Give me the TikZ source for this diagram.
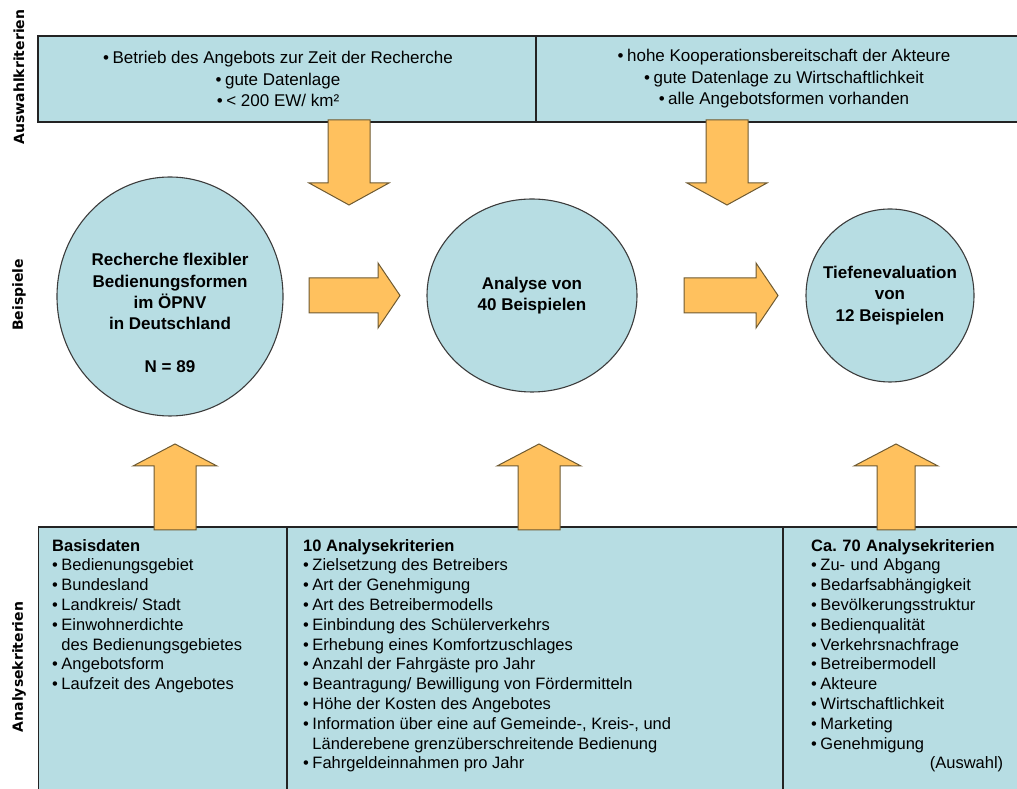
\documentclass[tikz,border=0pt]{standalone}
\usepackage{fontspec}
\setmainfont{Liberation Sans}
\newfontfamily\sidefont{DejaVu Sans}
\usetikzlibrary{shapes.geometric,positioning,calc}

\definecolor{boxfill}{RGB}{183,221,227}
\definecolor{arrowfill}{RGB}{255,193,94}
\definecolor{arrowline}{RGB}{110,90,50}
\definecolor{lineclr}{RGB}{35,35,35}
\definecolor{circline}{RGB}{60,60,60}

\newcommand{\itemdot}{\textbullet\hspace{3.5pt}}

\begin{document}
\begin{tikzpicture}[x=1pt, y=1pt,
    panel/.style={draw=lineclr, fill=boxfill, line width=1.1pt, inner sep=0pt,
                  outer sep=0pt, anchor=north west},
    toptext/.style={font=\fontsize{17}{21.5}\selectfont, align=center},
    listtext/.style={font=\fontsize{16.5}{19.8}\selectfont, align=left,
                     inner sep=0pt, anchor=north west},
    stage/.style={ellipse, draw=circline, fill=boxfill, line width=1.1pt, inner sep=0pt},
    stagetext/.style={font=\fontsize{17}{21.3}\selectfont\bfseries, align=center},
    side/.style={font=\sidefont\bfseries\fontsize{14}{16}\selectfont, rotate=90},
    blockarr/.style={draw=arrowline, fill=arrowfill, line width=1pt, line join=miter},
    pics/fatarrow/.style n args={3}{code={
        \draw[blockarr] (0,{-#2/2}) -- ({#1-22},{-#2/2}) -- ({#1-22},{-#3/2}) -- (#1,0)
            -- ({#1-22},{#3/2}) -- ({#1-22},{#2/2}) -- (0,{#2/2}) -- cycle;}}
]
    \useasboundingbox (0,0) rectangle (1017,789);

    % row labels
    \node[side] (selLabel) at (19,712) {Auswahlkriterien};
    \node[side] (exLabel) at (19,494) {Beispiele};
    \node[side] (anLabel) at (19,122) {Analysekriterien};

    % selection criteria
    \node[panel, minimum width=498, minimum height=86] (selA) at (38,753) {};
    \node[panel, minimum width=484, minimum height=86] (selB) at (536,753) {};
    \node[toptext] (selAtxt) at ([xshift=-9]selA.center)
        {\itemdot Betrieb des Angebots zur Zeit der Recherche\\
         \itemdot gute Datenlage\\
         \itemdot < 200 EW/ km²};
    \node[toptext] (selBtxt) at ([xshift=6]selB.center)
        {\itemdot hohe Kooperationsbereitschaft der Akteure\\
         \itemdot gute Datenlage zu Wirtschaftlichkeit\\
         \itemdot alle Angebotsformen vorhanden};

    % examples
    \node[stage, minimum width=226, minimum height=239] (search) at (170,492.5) {};
    \node[stagetext] (searchtxt) at ([yshift=-16.5]search.center)
        {Recherche flexibler\\Bedienungsformen\\im ÖPNV\\in Deutschland\\[21.3pt]N = 89};
    \node[stage, minimum width=210, minimum height=193] (analysis) at (532,493.5) {};
    \node[stagetext] (analysistxt) at (analysis.center) {Analyse von\\40 Beispielen};
    \node[stage, minimum width=168, minimum height=173] (deep) at (890,493.5) {};
    \node[stagetext] (deeptxt) at (deep.center) {Tiefenevaluation\\von\\12 Beispielen};

    % analysis criteria
    \node[panel, minimum width=248.5, minimum height=266] (base) at (38.5,262) {};
    \node[panel, minimum width=496, minimum height=266] (crit) at (287,262) {};
    \node[panel, minimum width=237, minimum height=266] (deepcrit) at (783,262) {};

    \node[listtext] (basetxt) at ([shift={(13.5,-12)}]base.north west)
        {\textbf{Basisdaten}\\
         \itemdot Bedienungsgebiet\\
         \itemdot Bundesland\\
         \itemdot Landkreis/ Stadt\\
         \itemdot Einwohnerdichte\\
         \hphantom{\itemdot}des Bedienungsgebietes\\
         \itemdot Angebotsform\\
         \itemdot Laufzeit des Angebotes};
    \node[listtext] (crittxt) at ([shift={(16,-12)}]crit.north west)
        {\textbf{10 Analysekriterien}\\
         \itemdot Zielsetzung des Betreibers\\
         \itemdot Art der Genehmigung\\
         \itemdot Art des Betreibermodells\\
         \itemdot Einbindung des Schülerverkehrs\\
         \itemdot Erhebung eines Komfortzuschlages\\
         \itemdot Anzahl der Fahrgäste pro Jahr\\
         \itemdot Beantragung/ Bewilligung von Fördermitteln\\
         \itemdot Höhe der Kosten des Angebotes\\
         \itemdot Information über eine auf Gemeinde-, Kreis-, und\\
         \hphantom{\itemdot}Länderebene grenzüberschreitende Bedienung\\
         \itemdot Fahrgeldeinnahmen pro Jahr};
    \node[listtext, text width=192] (deepcrittxt) at ([shift={(28,-12)}]deepcrit.north west)
        {\textbf{Ca.\ 70 Analysekriterien}\\
         \itemdot Zu- und Abgang\\
         \itemdot Bedarfsabhängigkeit\\
         \itemdot Bevölkerungsstruktur\\
         \itemdot Bedienqualität\\
         \itemdot Verkehrsnachfrage\\
         \itemdot Betreibermodell\\
         \itemdot Akteure\\
         \itemdot Wirtschaftlichkeit\\
         \itemdot Marketing\\
         \itemdot Genehmigung\\
         \hspace*{\fill}(Auswahl)};

    % block arrows
    \pic[rotate=-90] at (349,669) {fatarrow={85}{42}{80}};
    \pic[rotate=-90] at (727,669) {fatarrow={85}{42}{80}};
    \pic at (309,493.5) {fatarrow={91}{35}{65}};
    \pic at (684,493.5) {fatarrow={94}{35}{65}};
    \pic[rotate=90] at (175,259) {fatarrow={86}{42}{84}};
    \pic[rotate=90] at (539,259) {fatarrow={86}{42}{84}};
    \pic[rotate=90] at (896,259) {fatarrow={86}{38}{84}};
\end{tikzpicture}
\end{document}
